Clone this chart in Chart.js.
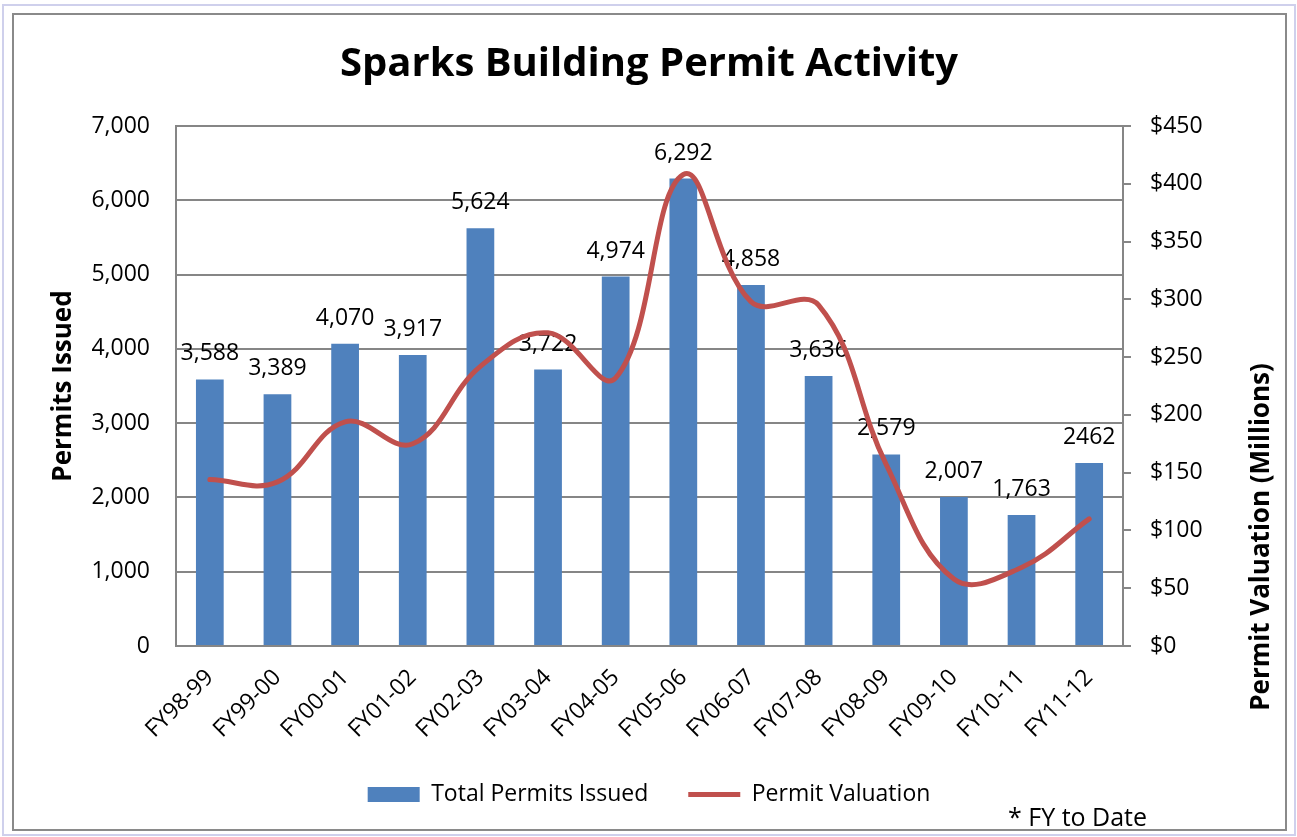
<!DOCTYPE html>
<html>
<head>
<meta charset="utf-8">
<script src="https://cdn.jsdelivr.net/npm/chart.js@4.4.0/dist/chart.umd.min.js"></script>
<style>
  html, body { margin: 0; padding: 0; background: #fff; }
</style>
</head>
<body>
<canvas id="myChart" width="1297" height="837"></canvas>
<script>
var years = ['FY98-99', 'FY99-00', 'FY00-01', 'FY01-02', 'FY02-03', 'FY03-04', 'FY04-05',
             'FY05-06', 'FY06-07', 'FY07-08', 'FY08-09', 'FY09-10', 'FY10-11', 'FY11-12'];
var permitsIssued = [3588, 3389, 4070, 3917, 5624, 3722, 4974, 6292, 4858, 3636, 2579, 2007, 1763, 2462];
var permitLabels = ['3,588', '3,389', '4,070', '3,917', '5,624', '3,722', '4,974',
                    '6,292', '4,858', '3,636', '2,579', '2,007', '1,763', '2462'];
// millions of dollars
var permitValuation = [144, 142, 194, 175, 242, 271, 232, 408, 298, 295, 157, 58, 68, 110];
var leftTicks = [0, 1000, 2000, 3000, 4000, 5000, 6000, 7000];
var rightTicks = [0, 50, 100, 150, 200, 250, 300, 350, 400, 450];

var gridGray = '#868686';
Chart.defaults.font.family = "'Open Sans'";
Chart.defaults.color = '#000';

// frame, value labels over the bars, right axis title, footnote
var extras = {
    id: 'extras',
    beforeDraw: function (chart) {
        var c = chart.ctx;
        c.save();
        c.fillStyle = '#fff';
        c.fillRect(0, 0, chart.width, chart.height);
        c.strokeStyle = '#cfd0ec';
        c.lineWidth = 2;
        c.strokeRect(3, 5, 1292, 830);
        c.strokeStyle = '#8a8a8a';
        c.strokeRect(13, 14, 1273, 816);
        c.restore();
    },
    afterDatasetDraw: function (chart, args) {
        if (args.index !== 0) return;
        var c = chart.ctx;
        var meta = chart.getDatasetMeta(0);
        c.save();
        c.font = "23px 'Open Sans'";
        c.fillStyle = '#000';
        c.textAlign = 'center';
        c.textBaseline = 'alphabetic';
        meta.data.forEach(function (bar, i) {
            c.fillText(permitLabels[i], bar.x, bar.y - 19);
        });
        c.restore();
    },
    afterDraw: function (chart) {
        var c = chart.ctx;
        c.save();
        c.fillStyle = '#000';
        c.font = "bold 26px 'Open Sans'";
        c.translate(1262, 537);
        c.rotate(-Math.PI / 2);
        c.textAlign = 'center';
        c.textBaseline = 'middle';
        c.fillText('Permit Valuation (Millions)', 0, 0);
        c.restore();

        c.save();
        c.fillStyle = '#000';
        c.font = "25px 'Open Sans'";
        c.textAlign = 'left';
        c.textBaseline = 'alphabetic';
        c.fillText('* FY to Date', 1008, 826);
        c.restore();
    }
};

var ctx = document.getElementById('myChart').getContext('2d');
var chart1 = new Chart(ctx, {
    type: 'bar',
    data: {
        labels: years,
        datasets: [{
            label: 'Total Permits Issued',
            data: permitsIssued,
            yAxisID: 'y',
            order: 2,
            backgroundColor: '#4F81BD',
            borderWidth: 0,
            barPercentage: 0.41,
            categoryPercentage: 1
        }, {
            type: 'line',
            label: 'Permit Valuation',
            data: permitValuation,
            yAxisID: 'y1',
            order: 1,
            borderColor: '#C0504D',
            backgroundColor: '#C0504D',
            borderWidth: 5,
            borderCapStyle: 'round',
            pointRadius: 0,
            tension: 0.4
        }]
    },
    options: {
        responsive: false,
        animation: false,
        layout: { padding: { left: 12, right: 11, top: 14, bottom: 21 } },
        plugins: {
            title: {
                display: true,
                text: 'Sparks Building Permit Activity',
                color: '#000',
                font: { size: 40, weight: 'bold' },
                padding: { top: 27, bottom: 37 }
            },
            legend: {
                position: 'bottom',
                labels: {
                    usePointStyle: true,
                    pointStyleWidth: 52,
                    boxHeight: 15,
                    padding: 40,
                    font: { size: 23 },
                    sort: function (a, b) { return a.datasetIndex - b.datasetIndex; },
                    generateLabels: function (chart) {
                        var items = Chart.defaults.plugins.legend.labels.generateLabels(chart);
                        items.forEach(function (it) {
                            it.pointStyle = it.datasetIndex === 0 ? 'rect' : 'line';
                        });
                        return items;
                    }
                }
            },
            tooltip: { enabled: false }
        },
        scales: {
            x: {
                grid: { display: false, drawTicks: false },
                border: { color: gridGray, width: 2 },
                ticks: { minRotation: 45, maxRotation: 45, autoSkip: false, padding: 18, font: { size: 23 } },
                afterFit: function (s) { s.height = 97; }
            },
            y: {
                position: 'left',
                min: 0,
                max: 7000,
                afterBuildTicks: function (s) { s.ticks = leftTicks.map(function (v) { return { value: v }; }); },
                grid: { color: gridGray, lineWidth: 2, drawTicks: false },
                border: { color: gridGray, width: 2 },
                ticks: {
                    padding: 26,
                    font: { size: 23 },
                    callback: function (v) { return v.toLocaleString('en-US'); }
                },
                title: {
                    display: true,
                    text: 'Permits Issued',
                    font: { size: 26, weight: 'bold' },
                    padding: { top: 36, bottom: 0 }
                },
                afterFit: function (s) { s.width = 164; }
            },
            y1: {
                position: 'right',
                min: 0,
                max: 450,
                afterBuildTicks: function (s) { s.ticks = rightTicks.map(function (v) { return { value: v }; }); },
                grid: { drawOnChartArea: false, color: gridGray, lineWidth: 2, tickLength: 8 },
                border: { color: gridGray, width: 2 },
                ticks: {
                    padding: 19,
                    font: { size: 23 },
                    callback: function (v) { return '$' + v; }
                },
                afterFit: function (s) { s.width = 163; }
            }
        }
    },
    plugins: [extras]
});
</script>
</body>
</html>
